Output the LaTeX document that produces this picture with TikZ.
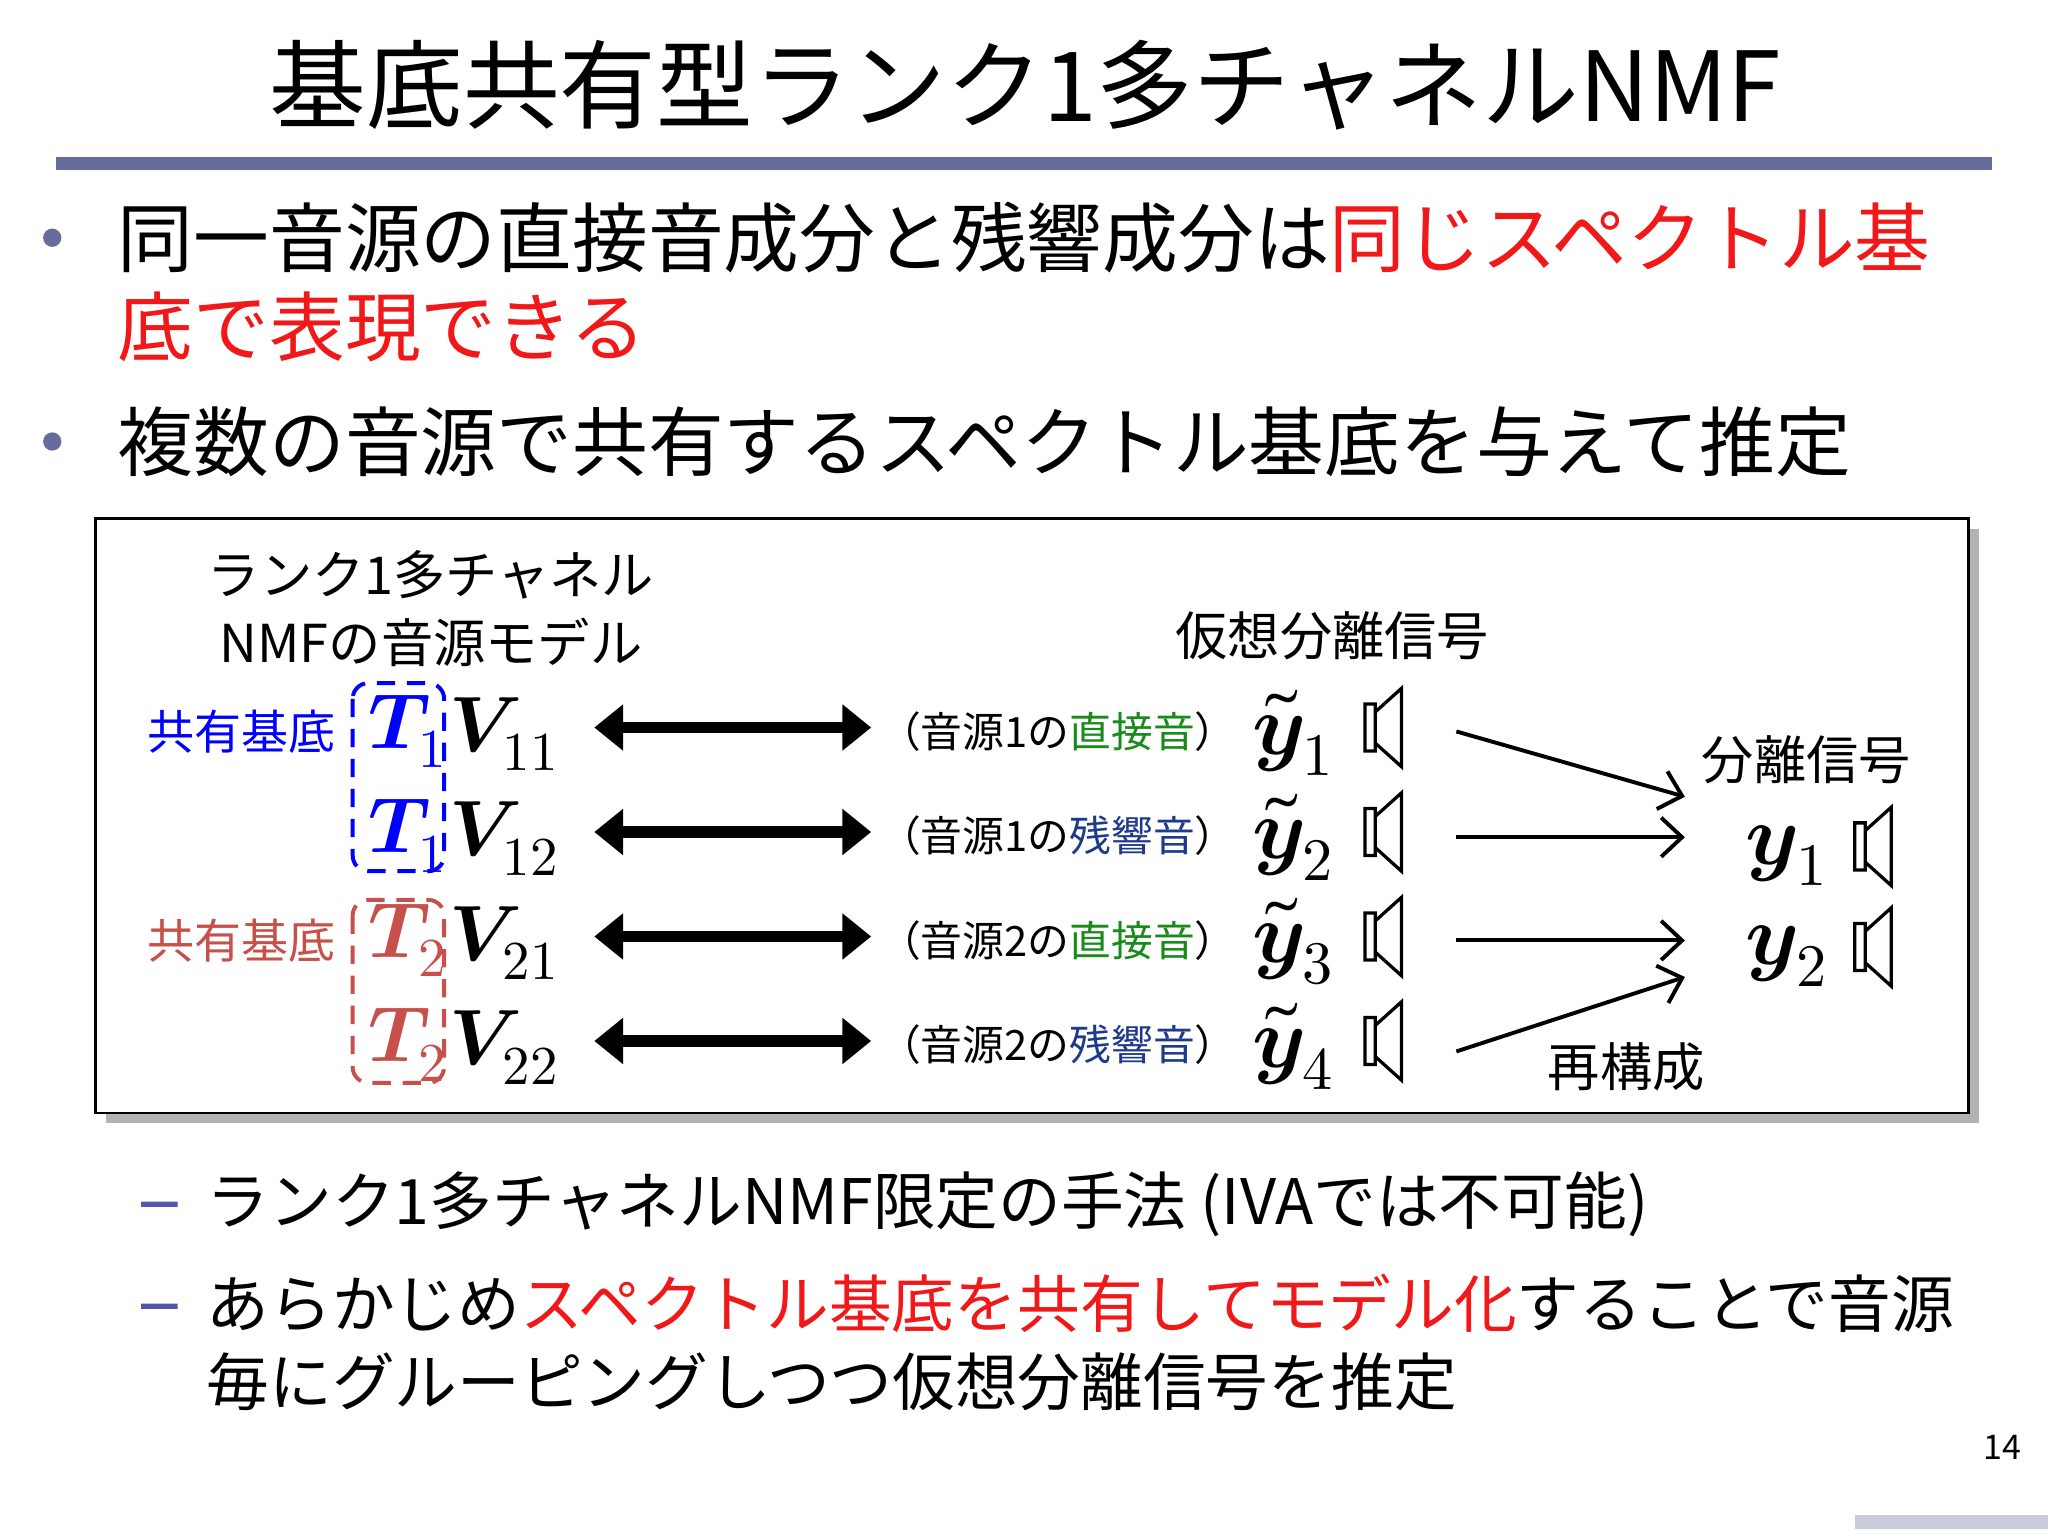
\documentclass[tikz,border=0pt]{standalone}
\usepackage{fontspec}
\usepackage{unicode-math}
\setmainfont{Noto Sans CJK JP}
\setmathfont{Latin Modern Math}
\usetikzlibrary{arrows.meta,shadows}
\definecolor{rulec}{HTML}{676C9C}
\definecolor{tred}{HTML}{F01818}
\definecolor{sred}{HTML}{C8504A}
\definecolor{dgreen}{HTML}{1A8A1A}
\definecolor{navy}{HTML}{1F3A8A}
\newcommand{\fs}[1]{\fontsize{#1}{#1}\selectfont}
\tikzset{
  txt/.style={inner sep=0pt,anchor=west},
  row/.style={inner sep=0pt,font=\fs{40}},
  dbl/.style={line width=9pt,{Triangle[length=22pt,width=34pt]}-{Triangle[length=22pt,width=34pt]}},
  sarr/.style={line width=3pt,-{Straight Barb[length=16pt,width=30pt,line width=3pt]}},
  spk/.pic={\draw[line width=2.5pt] (0,-18)rectangle(8,18) (8,-12)--(28,-30)--(28,30)--(8,12);}
}
\begin{document}
\begin{tikzpicture}[x=1pt,y=-1pt]
\useasboundingbox (0,0) rectangle (1568,1176);
\fill[white] (0,0) rectangle (1568,1176);
\node[inner sep=0pt,font=\fs{74}] (title) at (785,65) {基底共有型ランク1多チャネルNMF};
\fill[rulec] (43,120) rectangle (1525,130);
% bullets
\fill[rulec] (40,182) circle (7) (40,338) circle (7);
\node[txt,font=\fs{58}] (b1) at (90,182) {同一音源の直接音成分と残響成分は\textcolor{tred}{同じスペクトル基}};
\node[txt,font=\fs{58},text=tred] (b1b) at (90,250) {底で表現できる};
\node[txt,font=\fs{58}] (b2) at (90,338) {複数の音源で共有するスペクトル基底を与えて推定};
% box
\fill[gray!60] (81,405) rectangle (1515,860);
\draw[line width=2pt,fill=white] (73,397) rectangle (1507,852);
\node[inner sep=0pt,font=\fs{40}] (m1) at (330,440) {ランク1多チャネル};
\node[inner sep=0pt,font=\fs{40}] (m2) at (330,492) {NMFの音源モデル};
\node[inner sep=0pt,font=\fs{40}] (vs) at (1020,487) {仮想分離信号};
\node[inner sep=0pt,font=\fs{36},text=blue] (k1) at (185,560) {共有基底};
\node[inner sep=0pt,font=\fs{36},text=sred] (k2) at (185,720) {共有基底};
\draw[blue,line width=3pt,dash pattern=on 14pt off 9pt,rounded corners=12pt] (270,523) rectangle (340,667);
\draw[sred,line width=3pt,dash pattern=on 14pt off 9pt,rounded corners=12pt] (270,689) rectangle (340,829);
\foreach \i/\y/\c/\t/\v in {1/557/blue/1/11,2/637/blue/1/12,3/717/sred/2/21,4/797/sred/2/22}{
  \node[row,text=\c,anchor=west] (T\i) at (282,\y+3) {\scalebox{1.5}{$\symbfit{T}_{\t}$}};
  \node[row,anchor=west] (V\i) at (344,\y+5) {\scalebox{1.5}{$\symbfit{V}_{\v}$}};
  \coordinate (aL\i) at (455,\y);
  \coordinate (aR\i) at (667,\y);
  \draw[dbl] (aL\i) -- (aR\i);
  \node[row] (Y\i) at (990,\y+4) {\scalebox{1.65}{$\tilde{\symbfit{y}}_{\i}$}};
  \pic at (1045,\y) {spk};
}
\node[inner sep=0pt,font=\fs{32}] (l1) at (810,560) {（音源1の\textcolor{dgreen}{直接音}）};
\node[inner sep=0pt,font=\fs{32}] (l2) at (810,640) {（音源1の\textcolor{navy}{残響音}）};
\node[inner sep=0pt,font=\fs{32}] (l3) at (810,720) {（音源2の\textcolor{dgreen}{直接音}）};
\node[inner sep=0pt,font=\fs{32}] (l4) at (810,800) {（音源2の\textcolor{navy}{残響音}）};
\node[inner sep=0pt,font=\fs{40}] (sep) at (1383,582) {分離信号};
\node[row] (Z1) at (1368,655) {\scalebox{1.65}{$\symbfit{y}_1$}};
\node[row] (Z2) at (1368,732) {\scalebox{1.65}{$\symbfit{y}_2$}};
\pic at (1420,648) {spk};
\pic at (1420,725) {spk};
\coordinate (s1) at (1115,560); \coordinate (e1) at (1290,610);
\coordinate (s2) at (1115,641); \coordinate (e2) at (1290,641);
\coordinate (s3) at (1115,720); \coordinate (e3) at (1290,720);
\coordinate (s4) at (1115,805); \coordinate (e4) at (1290,748);
\foreach \i in {1,2,3,4} \draw[sarr] (s\i) -- (e\i);
\node[inner sep=0pt,font=\fs{40}] (rc) at (1245,817) {再構成};
% sub bullets
\fill[rulec!80!blue] (108,920) rectangle (136,924) (108,998) rectangle (136,1002);
\node[txt,font=\fs{48}] (c1) at (158,922) {ランク1多チャネルNMF限定の手法 (IVAでは不可能)};
\node[txt,font=\fs{48}] (c2) at (158,998) {あらかじめ\textcolor{tred}{スペクトル基底を共有してモデル化}することで音源};
\node[txt,font=\fs{48}] (c3) at (158,1058) {毎にグルーピングしつつ仮想分離信号を推定};
\node[inner sep=0pt,font=\fs{26}] (pg) at (1533,1108) {14};
\fill[rulec!35] (1420,1160) rectangle (1568,1171);
\end{tikzpicture}
\end{document}
